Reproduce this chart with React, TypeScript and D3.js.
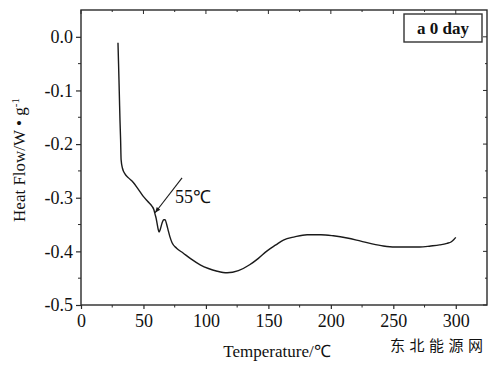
// Externals
import * as d3 from 'd3'
import React, { useEffect, useRef } from 'react'

// DSC curve
const temperature = [
  29.6, 30.0, 30.4, 30.8, 31.2, 31.7, 32.1, 33.2, 35.3, 38.0, 41.7, 45.5, 49.7,
  53.5, 56.9, 58.3, 59.3, 60.2, 60.9, 61.7, 62.5, 63.6, 64.9, 66.2, 67.3, 68.5,
  69.7, 71.2, 72.9, 76.5, 81.7, 88.0, 95.4, 102.0, 109.0, 117.0, 126.0, 135.0,
  142.0, 149.0, 156.0, 162.0, 171.0, 181.0, 192.0, 202.0, 213.0, 224.0, 233.0,
  242.0, 251.0, 261.0, 271.0, 280.0, 287.0, 293.0, 296.5, 298.5, 300.0
]
const heatFlow = [
  -0.011, -0.045, -0.080, -0.118, -0.155, -0.192, -0.229, -0.245, -0.256,
  -0.263, -0.271, -0.283, -0.297, -0.307, -0.316, -0.322, -0.331, -0.339,
  -0.348, -0.358, -0.364, -0.358, -0.347, -0.341, -0.341, -0.349, -0.360,
  -0.373, -0.384, -0.394, -0.403, -0.414, -0.425, -0.432, -0.437, -0.440,
  -0.436, -0.425, -0.413, -0.399, -0.388, -0.379, -0.373, -0.369, -0.369,
  -0.371, -0.375, -0.381, -0.386, -0.390, -0.392, -0.392, -0.392, -0.390,
  -0.388, -0.385, -0.382, -0.378, -0.374
]

const xTicks = [0, 50, 100, 150, 200, 250, 300]
const yTicks = [0.0, -0.1, -0.2, -0.3, -0.4, -0.5]

// 55 °C annotation: arrow from label to the onset
const arrowFrom = [80.9, -0.263]
const arrowTo = [59.3, -0.328]
const noteAt = [75.3, -0.309]
const noteText = '55℃'
const legendText = 'a 0 day'
const xTitle = 'Temperature/℃'
const watermark = '东北能源网'

const App = () => {
  const svgRef = useRef<any>(null)

  useEffect(() => {
    if (!svgRef.current) return
    d3.select(svgRef.current).selectAll('*').remove()

    const width = 500
    const height = 366
    const margin = { top: 10, right: 13, bottom: 61, left: 81 }
    const ink = '#2a2a2a'
    const serif = '"Liberation Serif", "Times New Roman", serif'

    const svg = d3.select(svgRef.current)
      .attr('width', width)
      .attr('height', height)
      .style('font-family', serif)

    const x = d3.scaleLinear().domain([0, 325])
      .range([margin.left, width - margin.right])
    const y = d3.scaleLinear().domain([-0.5, 0.05])
      .range([height - margin.bottom, margin.top])

    const [x0, x1] = x.range()
    const [y0, y1] = y.range()

    // Frame
    svg.append('rect')
      .attr('x', x0).attr('y', y1)
      .attr('width', x1 - x0).attr('height', y0 - y1)
      .attr('fill', 'none')
      .attr('stroke', ink)
      .attr('stroke-width', 1.4)

    const xMinor = d3.range(25, 325, 50)
    const yMinor = d3.range(-0.45, 0.05, 0.1)

    // Bottom axis
    const bottom = svg.append('g').attr('transform', `translate(0, ${y0})`)
    bottom.call(d3.axisBottom(x).tickValues(xTicks).tickSize(4).tickFormat(d3.format('d')))
    bottom.select('.domain').remove()
    bottom.selectAll('line').attr('stroke', ink).attr('stroke-width', 1.2)
    bottom.selectAll('text')
      .attr('font-family', serif).attr('font-size', 18).attr('fill', '#111')
      .attr('dy', '0.85em')
    bottom.selectAll('.minor').data(xMinor).enter().append('line')
      .attr('x1', (d) => x(d)).attr('x2', (d) => x(d))
      .attr('y1', 0).attr('y2', 2.5)
      .attr('stroke', ink).attr('stroke-width', 1)

    // Left axis
    const left = svg.append('g').attr('transform', `translate(${x0}, 0)`)
    left.call(d3.axisLeft(y).tickValues(yTicks).tickSize(5).tickFormat(d3.format('.1f')))
    left.select('.domain').remove()
    left.selectAll('line').attr('stroke', ink).attr('stroke-width', 1.2)
    left.selectAll('text')
      .attr('font-family', serif).attr('font-size', 18).attr('fill', '#111')
      .attr('x', -8)
      .text((d: any) => d3.format('.1f')(d).replace('−', '-'))
    left.selectAll('.minor').data(yMinor).enter().append('line')
      .attr('y1', (d) => y(d)).attr('y2', (d) => y(d))
      .attr('x1', 0).attr('x2', -3)
      .attr('stroke', ink).attr('stroke-width', 1)

    // Mirror ticks on top and right, pointing inward
    svg.selectAll('.top-tick').data(xTicks.concat(xMinor)).enter().append('line')
      .attr('x1', (d) => x(d)).attr('x2', (d) => x(d))
      .attr('y1', y1).attr('y2', (d) => y1 + (xTicks.includes(d) ? 4 : 2))
      .attr('stroke', ink).attr('stroke-width', 1)
    svg.selectAll('.right-tick').data(yTicks.concat(yMinor)).enter().append('line')
      .attr('y1', (d) => y(d)).attr('y2', (d) => y(d))
      .attr('x1', x1).attr('x2', (d) => x1 - (yTicks.includes(d) ? 4 : 2))
      .attr('stroke', ink).attr('stroke-width', 1)

    // Curve
    const points: [number, number][] = temperature.map((t, i) => [t, heatFlow[i]])
    const line = d3.line<[number, number]>()
      .x((d) => x(d[0]))
      .y((d) => y(d[1]))
      .curve(d3.curveMonotoneX)
    svg.append('path')
      .datum(points)
      .attr('d', line)
      .attr('fill', 'none')
      .attr('stroke', '#1a1a1a')
      .attr('stroke-width', 1.4)

    // Annotation arrow
    const ax0 = x(arrowFrom[0]), ay0 = y(arrowFrom[1])
    const ax1 = x(arrowTo[0]), ay1 = y(arrowTo[1])
    svg.append('line')
      .attr('x1', ax0).attr('y1', ay0).attr('x2', ax1).attr('y2', ay1)
      .attr('stroke', '#1a1a1a').attr('stroke-width', 1.1)
    const ang = Math.atan2(ay1 - ay0, ax1 - ax0)
    const head = 6, spread = 0.38
    svg.append('path')
      .attr('d', `M${ax1},${ay1}`
        + `L${ax1 - head * Math.cos(ang - spread)},${ay1 - head * Math.sin(ang - spread)}`
        + `L${ax1 - head * Math.cos(ang + spread)},${ay1 - head * Math.sin(ang + spread)}Z`)
      .attr('fill', '#1a1a1a')
    svg.append('text')
      .attr('x', x(noteAt[0])).attr('y', y(noteAt[1]))
      .attr('font-size', 18).attr('fill', '#111')
      .text(noteText)

    // Legend box
    svg.append('rect')
      .attr('x', 404).attr('y', 14).attr('width', 78).attr('height', 28)
      .attr('fill', 'white').attr('stroke', '#333').attr('stroke-width', 1.4)
    svg.append('text')
      .attr('x', 443).attr('y', 34)
      .attr('text-anchor', 'middle')
      .attr('font-size', 17).attr('font-weight', 'bold').attr('fill', '#111')
      .text(legendText)

    // Axis titles
    svg.append('text')
      .attr('x', 277).attr('y', 357)
      .attr('text-anchor', 'middle')
      .attr('font-size', 17).attr('fill', '#111')
      .text(xTitle)

    const yTitle = svg.append('text')
      .attr('transform', 'translate(25, 160) rotate(-90)')
      .attr('text-anchor', 'middle')
      .attr('font-size', 17).attr('fill', '#111')
    yTitle.append('tspan').text('Heat Flow/W • g')
    yTitle.append('tspan').attr('dy', -6).attr('font-size', 11).text('-1')

    // Watermark
    svg.append('text')
      .attr('x', 390).attr('y', 351)
      .attr('font-family', '"Noto Sans CJK SC", sans-serif')
      .attr('font-size', 15).attr('letter-spacing', 4.5).attr('fill', '#111')
      .text(watermark)
  }, [])

  return (
    <div style={{ position: 'absolute', left: 0, top: 0 }}>
      <svg ref={ svgRef }></svg>
    </div>
  )
}

export default App
